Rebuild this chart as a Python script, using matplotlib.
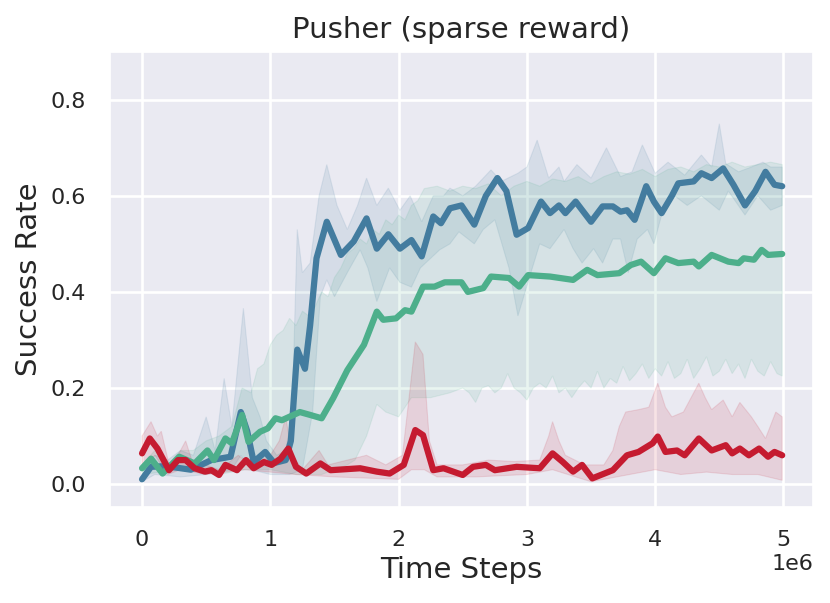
import numpy as np
import matplotlib
matplotlib.use("Agg")
import matplotlib.pyplot as plt
import seaborn as sns

# x values are in units of 1e6 time steps
blue_x = [0, 0.07, 0.15, 0.25, 0.38, 0.54, 0.69, 0.77, 0.82, 0.87, 0.96, 1.03, 1.12, 1.16, 1.21,
          1.27, 1.31, 1.36, 1.44, 1.55, 1.65, 1.75, 1.83, 1.92, 2.01, 2.10, 2.18, 2.27, 2.33, 2.40,
          2.49, 2.59, 2.68, 2.77, 2.84, 2.92, 3.01, 3.11, 3.18, 3.25, 3.30, 3.38, 3.50, 3.59, 3.67,
          3.73, 3.78, 3.84, 3.93, 3.99, 4.05, 4.13, 4.18, 4.30, 4.36, 4.44, 4.53, 4.61, 4.70, 4.78,
          4.86, 4.93, 4.99]
blue_y = [0.01, 0.036, 0.037, 0.035, 0.03, 0.05, 0.057, 0.15, 0.11, 0.046, 0.067, 0.044, 0.05, 0.09, 0.28,
          0.24, 0.33, 0.47, 0.546, 0.477, 0.505, 0.553, 0.49, 0.52, 0.49, 0.508, 0.474, 0.557, 0.543, 0.574,
          0.58, 0.54, 0.6, 0.637, 0.61, 0.519, 0.533, 0.588, 0.564, 0.58, 0.564, 0.588, 0.546, 0.578, 0.578,
          0.567, 0.57, 0.55, 0.62, 0.588, 0.564, 0.6, 0.626, 0.63, 0.647, 0.637, 0.657, 0.623, 0.58, 0.61,
          0.65, 0.623, 0.62]

blue_hi_x = [0, 0.1, 0.2, 0.3, 0.4, 0.5, 0.57, 0.64, 0.7, 0.79, 0.86, 0.92, 0.97, 1.05, 1.12, 1.17,
             1.21, 1.25, 1.31, 1.38, 1.44, 1.52, 1.60, 1.68, 1.75, 1.83, 1.92, 2.01, 2.09, 2.18, 2.27,
             2.35, 2.40, 2.50, 2.60, 2.72, 2.80, 2.93, 3.00, 3.08, 3.17, 3.25, 3.29, 3.39, 3.50, 3.62,
             3.73, 3.82, 3.90, 4.00, 4.10, 4.23, 4.36, 4.44, 4.50, 4.55, 4.65, 4.75, 4.84, 4.90, 4.99]
blue_hi_y = [0.02, 0.06, 0.05, 0.07, 0.06, 0.14, 0.07, 0.22, 0.12, 0.366, 0.18, 0.14, 0.09, 0.06, 0.07, 0.15,
             0.53, 0.44, 0.46, 0.6, 0.665, 0.58, 0.53, 0.58, 0.637, 0.58, 0.616, 0.57, 0.60, 0.546, 0.6,
             0.6, 0.616, 0.6, 0.62, 0.654, 0.63, 0.647, 0.66, 0.716, 0.637, 0.66, 0.63, 0.665, 0.637, 0.70,
             0.64, 0.65, 0.706, 0.647, 0.67, 0.643, 0.685, 0.66, 0.75, 0.667, 0.65, 0.66, 0.67, 0.66, 0.66]

blue_lo_x = [0, 0.1, 0.3, 0.5, 0.7, 0.77, 0.85, 1.0, 1.15, 1.25, 1.33, 1.39, 1.44, 1.50, 1.60, 1.70,
             1.76, 1.83, 1.93, 2.01, 2.10, 2.17, 2.25, 2.32, 2.40, 2.47, 2.59, 2.66, 2.75, 2.86, 2.93,
             3.02, 3.10, 3.18, 3.29, 3.36, 3.43, 3.52, 3.59, 3.67, 3.73, 3.79, 3.86, 3.94, 3.99, 4.05,
             4.15, 4.25, 4.36, 4.50, 4.57, 4.70, 4.80, 4.90, 4.99]
blue_lo_y = [0.005, 0.02, 0.015, 0.02, 0.03, 0.06, 0.03, 0.02, 0.02, 0.03, 0.15, 0.39, 0.425, 0.39, 0.44, 0.4875,
             0.45, 0.38, 0.45, 0.42, 0.41, 0.45, 0.47, 0.4875, 0.5, 0.525, 0.5, 0.53, 0.55, 0.45, 0.35,
             0.43, 0.5, 0.49, 0.53, 0.49, 0.46, 0.49, 0.46, 0.51, 0.51, 0.44, 0.51, 0.53, 0.5, 0.56,
             0.6, 0.58, 0.6, 0.57, 0.61, 0.56, 0.6, 0.57, 0.58]

green_x = [0, 0.07, 0.16, 0.29, 0.41, 0.51, 0.56, 0.65, 0.70, 0.78, 0.83, 0.92, 0.98, 1.04, 1.09, 1.23,
           1.31, 1.40, 1.49, 1.60, 1.73, 1.83, 1.88, 1.98, 2.05, 2.10, 2.19, 2.28, 2.36, 2.49, 2.54,
           2.66, 2.72, 2.86, 2.94, 3.01, 3.18, 3.36, 3.47, 3.55, 3.72, 3.81, 3.89, 3.99, 4.08, 4.18,
           4.30, 4.34, 4.44, 4.57, 4.65, 4.69, 4.77, 4.83, 4.88, 4.99]
green_y = [0.033, 0.053, 0.022, 0.057, 0.043, 0.07, 0.05, 0.095, 0.085, 0.144, 0.088, 0.109, 0.116, 0.137, 0.133, 0.15,
           0.144, 0.137, 0.179, 0.237, 0.29, 0.359, 0.342, 0.345, 0.362, 0.359, 0.411, 0.411, 0.42, 0.42, 0.40,
           0.408, 0.432, 0.429, 0.411, 0.435, 0.432, 0.425, 0.446, 0.435, 0.439, 0.456, 0.463, 0.439, 0.47, 0.46,
           0.463, 0.453, 0.477, 0.463, 0.46, 0.47, 0.467, 0.4875, 0.477, 0.479]

green_hi_x = [0, 0.1, 0.2, 0.3, 0.4, 0.5, 0.6, 0.7, 0.78, 0.85, 0.9, 0.95, 1.0, 1.05, 1.1, 1.15,
              1.2, 1.25, 1.3, 1.35, 1.4, 1.45, 1.5, 1.55, 1.6, 1.65, 1.7, 1.75, 1.8, 1.85, 1.9,
              1.95, 2.0, 2.05, 2.1, 2.15, 2.2, 2.3, 2.4, 2.5, 2.6, 2.7, 2.8, 2.9, 3.0, 3.1, 3.2,
              3.3, 3.4, 3.5, 3.6, 3.7, 3.8, 3.9, 4.0, 4.1, 4.2, 4.3, 4.4, 4.5, 4.6, 4.7, 4.8, 4.9, 4.99]
green_hi_y = [0.04, 0.07, 0.04, 0.07, 0.07, 0.09, 0.1, 0.12, 0.2, 0.19, 0.24, 0.25, 0.29, 0.31, 0.32, 0.345,
              0.33, 0.36, 0.35, 0.37, 0.40, 0.39, 0.43, 0.45, 0.48, 0.49, 0.51, 0.50, 0.53, 0.52, 0.55,
              0.54, 0.56, 0.55, 0.58, 0.59, 0.615, 0.62, 0.61, 0.62, 0.615, 0.625, 0.60, 0.62, 0.63, 0.62, 0.635,
              0.63, 0.64, 0.625, 0.64, 0.65, 0.645, 0.655, 0.64, 0.655, 0.66, 0.65, 0.665, 0.66, 0.67, 0.66, 0.665, 0.67, 0.665]

green_lo_x = [0, 0.3, 0.6, 0.8, 1.0, 1.2, 1.4, 1.5, 1.6, 1.66, 1.75, 1.83, 1.9, 2.0, 2.1, 2.25, 2.4,
              2.5, 2.55, 2.6, 2.65, 2.7, 2.75, 2.8, 2.85, 2.9, 2.95, 3.0, 3.05, 3.1, 3.15, 3.2, 3.25,
              3.3, 3.35, 3.4, 3.45, 3.5, 3.55, 3.6, 3.65, 3.7, 3.75, 3.8, 3.85, 3.9, 3.95, 4.0, 4.05,
              4.1, 4.15, 4.2, 4.25, 4.3, 4.35, 4.4, 4.45, 4.5, 4.55, 4.6, 4.65, 4.7, 4.75, 4.8, 4.85,
              4.9, 4.95, 4.99]
green_lo_y = [0.02, 0.03, 0.02, 0.03, 0.03, 0.02, 0.02, 0.03, 0.04, 0.05, 0.1, 0.166, 0.15, 0.14, 0.18, 0.18, 0.19,
              0.2, 0.19, 0.17, 0.2, 0.205, 0.19, 0.2, 0.23, 0.2, 0.19, 0.175, 0.2, 0.21, 0.2, 0.225, 0.19,
              0.2, 0.18, 0.2, 0.215, 0.2, 0.235, 0.2, 0.22, 0.21, 0.245, 0.215, 0.23, 0.25, 0.22, 0.24, 0.225,
              0.255, 0.22, 0.23, 0.26, 0.22, 0.24, 0.265, 0.225, 0.235, 0.26, 0.23, 0.25, 0.22, 0.26, 0.235, 0.225,
              0.255, 0.23, 0.225]

red_x = [0, 0.06, 0.12, 0.21, 0.28, 0.34, 0.41, 0.49, 0.54, 0.60, 0.65, 0.74, 0.81, 0.87, 0.95, 1.01,
         1.08, 1.14, 1.20, 1.28, 1.39, 1.47, 1.70, 1.83, 1.93, 2.04, 2.13, 2.19, 2.27, 2.35, 2.50,
         2.58, 2.68, 2.75, 2.92, 3.10, 3.20, 3.28, 3.36, 3.43, 3.51, 3.67, 3.78, 3.87, 3.98, 4.02,
         4.08, 4.17, 4.23, 4.34, 4.44, 4.55, 4.60, 4.66, 4.73, 4.81, 4.88, 4.93, 4.99]
red_y = [0.064, 0.095, 0.074, 0.029, 0.05, 0.05, 0.033, 0.026, 0.029, 0.019, 0.04, 0.029, 0.05, 0.033, 0.046, 0.04,
         0.053, 0.074, 0.036, 0.022, 0.043, 0.029, 0.033, 0.026, 0.022, 0.04, 0.1125, 0.102, 0.029, 0.033, 0.019,
         0.036, 0.04, 0.029, 0.036, 0.033, 0.064, 0.046, 0.026, 0.04, 0.012, 0.029, 0.06, 0.067, 0.085, 0.099,
         0.067, 0.07, 0.06, 0.095, 0.07, 0.081, 0.064, 0.074, 0.06, 0.074, 0.057, 0.067, 0.06]

red_hi_x = [0, 0.07, 0.12, 0.15, 0.22, 0.28, 0.34, 0.40, 0.5, 0.6, 0.75, 0.85, 1.0, 1.07, 1.12, 1.17,
            1.25, 1.38, 1.45, 1.6, 1.75, 1.9, 2.03, 2.09, 2.13, 2.19, 2.24, 2.30, 2.5, 2.7, 2.9, 3.1,
            3.17, 3.2, 3.25, 3.3, 3.45, 3.6, 3.67, 3.72, 3.77, 3.87, 3.95, 4.02, 4.08, 4.13, 4.22, 4.30,
            4.34, 4.39, 4.44, 4.53, 4.6, 4.66, 4.75, 4.80, 4.86, 4.94, 4.99]
red_hi_y = [0.1, 0.13, 0.1, 0.11, 0.03, 0.06, 0.09, 0.04, 0.04, 0.03, 0.06, 0.04, 0.06, 0.09, 0.14, 0.06,
            0.03, 0.07, 0.04, 0.05, 0.06, 0.04, 0.06, 0.2, 0.296, 0.27, 0.09, 0.04, 0.04, 0.05, 0.047, 0.05,
            0.1, 0.13, 0.09, 0.06, 0.04, 0.04, 0.07, 0.12, 0.15, 0.155, 0.16, 0.21, 0.16, 0.14, 0.15, 0.19,
            0.21, 0.18, 0.155, 0.175, 0.14, 0.17, 0.14, 0.12, 0.095, 0.15, 0.14]

red_lo_x = [0, 0.1, 0.2, 0.3, 0.5, 0.8, 1.0, 1.2, 1.5, 2.0, 2.1, 2.2, 2.3, 2.6, 3.0, 3.2, 3.5, 3.7,
            3.8, 4.0, 4.2, 4.4, 4.6, 4.8, 4.99]
red_lo_y = [0.03, 0.06, 0.02, 0.03, 0.02, 0.03, 0.025, 0.02, 0.015, 0.01, 0.03, 0.03, 0.015, 0.015, 0.02, 0.03,
            0.005, 0.015, 0.02, 0.03, 0.02, 0.025, 0.02, 0.02, 0.008]

BLUE = "#437c9f"
GREEN = "#4daf8b"
RED = "#c51b30"

sns.set_theme(style="darkgrid", rc={"grid.linewidth": 1.9})
plt.rcParams["font.family"] = ["DejaVu Sans"]

fig = plt.figure(figsize=(8.3, 6.03), dpi=100)
ax = fig.add_axes([0.1325, 0.1597, 0.847, 0.7546])

def band(hx, hy, lx, ly, color):
    px = np.concatenate([hx, lx[::-1]]) * 1e6
    py = np.concatenate([hy, ly[::-1]])
    ax.fill(px, py, color=color, alpha=0.12, lw=0.8, ec=color)

series = [
    (blue_x, blue_y, blue_hi_x, blue_hi_y, blue_lo_x, blue_lo_y, BLUE),
    (green_x, green_y, green_hi_x, green_hi_y, green_lo_x, green_lo_y, GREEN),
    (red_x, red_y, red_hi_x, red_hi_y, red_lo_x, red_lo_y, RED),
]
for mx, my, hx, hy, lx, ly, c in series:
    band(np.array(hx), np.array(hy), np.array(lx), np.array(ly), c)
for mx, my, hx, hy, lx, ly, c in series:
    ax.plot(np.array(mx) * 1e6, my, color=c, lw=4.5, solid_capstyle="round", solid_joinstyle="round")

ax.set_xlim(-0.25e6, 5.23e6)
ax.set_ylim(-0.047, 0.9)
ax.set_xticks([0, 1e6, 2e6, 3e6, 4e6, 5e6])
ax.set_yticks([0.0, 0.2, 0.4, 0.6, 0.8])
ax.tick_params(labelsize=16, pad=11)
ax.xaxis.get_offset_text().set_fontsize(16)
ax.set_xlabel("Time Steps", fontsize=21, labelpad=4)
ax.set_ylabel("Success Rate", fontsize=21, labelpad=6)
ax.set_title("Pusher (sparse reward)", fontsize=21, pad=10)

fig.savefig("out.png", dpi=100)
